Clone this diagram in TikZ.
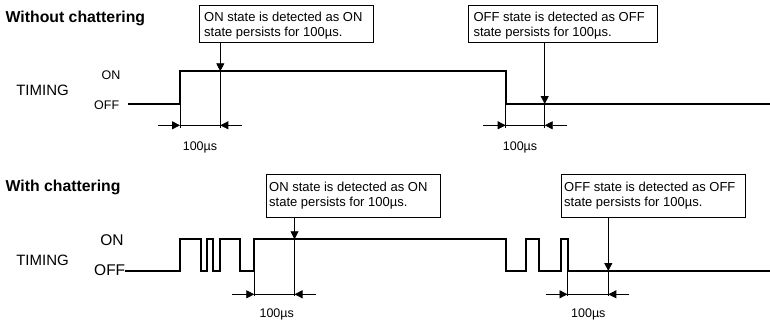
\documentclass[tikz,border=0pt]{standalone}
\usepackage{fontspec}
\setmainfont{Liberation Sans}
\usetikzlibrary{arrows.meta}
\begin{document}
\begin{tikzpicture}[x=1pt,y=-1pt,
  wave/.style={line width=2pt, line join=miter},
  thinline/.style={line width=0.8pt},
  arr/.style={thinline,-{Triangle[length=8pt,width=8pt]}},
  callout/.style={draw, line width=0.8pt, inner sep=0pt, anchor=north west},
  ctext/.style={inner sep=0pt, anchor=north west, align=left, font=\fontsize{13}{15}\selectfont},
  lbl/.style={inner sep=0pt, anchor=base, font=\fontsize{12.5}{15}\selectfont},
  lvl/.style={inner sep=0pt, font=\fontsize{12.5}{15}\selectfont},
  lvlbig/.style={inner sep=0pt, font=\fontsize{15.5}{18}\selectfont},
  sig/.style={inner sep=0pt, font=\fontsize{15}{18}\selectfont},
  ttl/.style={inner sep=0pt, anchor=base west, font=\fontsize{15.8}{18}\selectfont\bfseries},
]
\useasboundingbox (0,0) rectangle (770,321);

% ---------------- Without chattering ----------------
\node[ttl] (title1) at (5.5,22.5) {Without chattering};
\node[sig] (tim1) at (42.5,90.8) {TIMING};
\node[lvl] (on1) at (111,75) {ON};
\node[lvl] (off1) at (106.7,105) {OFF};

\node[callout, minimum width=174pt, minimum height=36.7pt] (b1) at (198.5,5) {};
\node[ctext] (t1) at (204,12.3) {ON state is detected as ON\\state persists for 100µs.};
\node[callout, minimum width=188.4pt, minimum height=36.7pt] (b2) at (468.3,5) {};
\node[ctext] (t2) at (473.3,12.2) {OFF state is detected as OFF\\state persists for 100µs.};

\draw[wave] (128.3,104) -- (180,104) -- (180,71.3) -- (505.7,71.3) -- (505.7,104) -- (770,104);

% detection arrows
\coordinate (a1) at (220.3,71.3);
\coordinate (a1m) at (220.3,128);
\draw[arr] (b1.south -| a1) -- (a1);
\draw[thinline] (a1) -- (a1m);
\coordinate (e1) at (180,104);
\coordinate (e1m) at (180,128);
\draw[thinline] (e1) -- (e1m);
\coordinate (d1l) at (158,125.3);
\coordinate (d1a) at (180,125.3);
\coordinate (d1b) at (220.3,125.3);
\coordinate (d1r) at (242,125.3);
\draw[arr] (d1l) -- (d1a);
\draw[thinline] (d1a) -- (d1b);
\draw[arr] (d1r) -- (d1b);
\node[lbl] (l1) at (200,150) {100µs};

\coordinate (a2) at (544.7,104);
\coordinate (a2m) at (544.7,128);
\draw[arr] (b2.south -| a2) -- (a2);
\draw[thinline] (a2) -- (a2m);
\coordinate (e2) at (505.7,104);
\coordinate (e2m) at (505.7,128);
\draw[thinline] (e2) -- (e2m);
\coordinate (d2l) at (483.3,125.3);
\coordinate (d2a) at (505.7,125.3);
\coordinate (d2b) at (544.7,125.3);
\coordinate (d2r) at (566.7,125.3);
\draw[arr] (d2l) -- (d2a);
\draw[thinline] (d2a) -- (d2b);
\draw[arr] (d2r) -- (d2b);
\node[lbl] (l2) at (520,150) {100µs};

% ---------------- With chattering ----------------
\node[ttl] (title2) at (5.5,191) {With chattering};
\node[sig] (tim2) at (42.5,260.7) {TIMING};
\node[lvlbig] (on2) at (112,240) {ON};
\node[lvlbig] (off2) at (109.7,270) {OFF};

\node[callout, minimum width=174pt, minimum height=43pt] (b3) at (266,174.3) {};
\node[ctext] (t3) at (269,182.3) {ON state is detected as ON\\state persists for 100µs.};
\node[callout, minimum width=184.3pt, minimum height=43.3pt] (b4) at (560.7,174) {};
\node[ctext] (t4) at (564,181.5) {OFF state is detected as OFF\\state persists for 100µs.};

\draw[wave] (125,271) -- (180.3,271) -- (180.3,239.3) -- (200.7,239.3) -- (200.7,271)
  -- (207.3,271) -- (207.3,239.3) -- (213.3,239.3) -- (213.3,271)
  -- (220,271) -- (220,239.3) -- (240,239.3) -- (240,271)
  -- (254.3,271) -- (254.3,239.3) -- (505.5,239.3) -- (505.5,271)
  -- (526.3,271) -- (526.3,239.3) -- (539.3,239.3) -- (539.3,271)
  -- (560.7,271) -- (560.7,239.3) -- (567.5,239.3) -- (567.5,271) -- (770,271);

\coordinate (a3) at (294.5,239.3);
\coordinate (a3m) at (294.5,296);
\draw[arr] (b3.south -| a3) -- (a3);
\draw[thinline] (a3) -- (a3m);
\coordinate (e3) at (254.3,271);
\coordinate (e3m) at (254.3,296);
\draw[thinline] (e3) -- (e3m);
\coordinate (d3l) at (232.3,294.3);
\coordinate (d3a) at (254.3,294.3);
\coordinate (d3b) at (294.5,294.3);
\coordinate (d3r) at (316,294.3);
\draw[arr] (d3l) -- (d3a);
\draw[thinline] (d3a) -- (d3b);
\draw[arr] (d3r) -- (d3b);
\node[lbl] (l3) at (276.7,317.5) {100µs};

\coordinate (a4) at (608.3,271);
\coordinate (a4m) at (608.3,296);
\draw[arr] (b4.south -| a4) -- (a4);
\draw[thinline] (a4) -- (a4m);
\coordinate (e4) at (567.5,271);
\coordinate (e4m) at (567.5,296);
\draw[thinline] (e4) -- (e4m);
\coordinate (d4l) at (545.7,294.3);
\coordinate (d4a) at (567.5,294.3);
\coordinate (d4b) at (608.3,294.3);
\coordinate (d4r) at (629.3,294.3);
\draw[arr] (d4l) -- (d4a);
\draw[thinline] (d4a) -- (d4b);
\draw[arr] (d4r) -- (d4b);
\node[lbl] (l4) at (588.3,317.5) {100µs};
\end{tikzpicture}
\end{document}
